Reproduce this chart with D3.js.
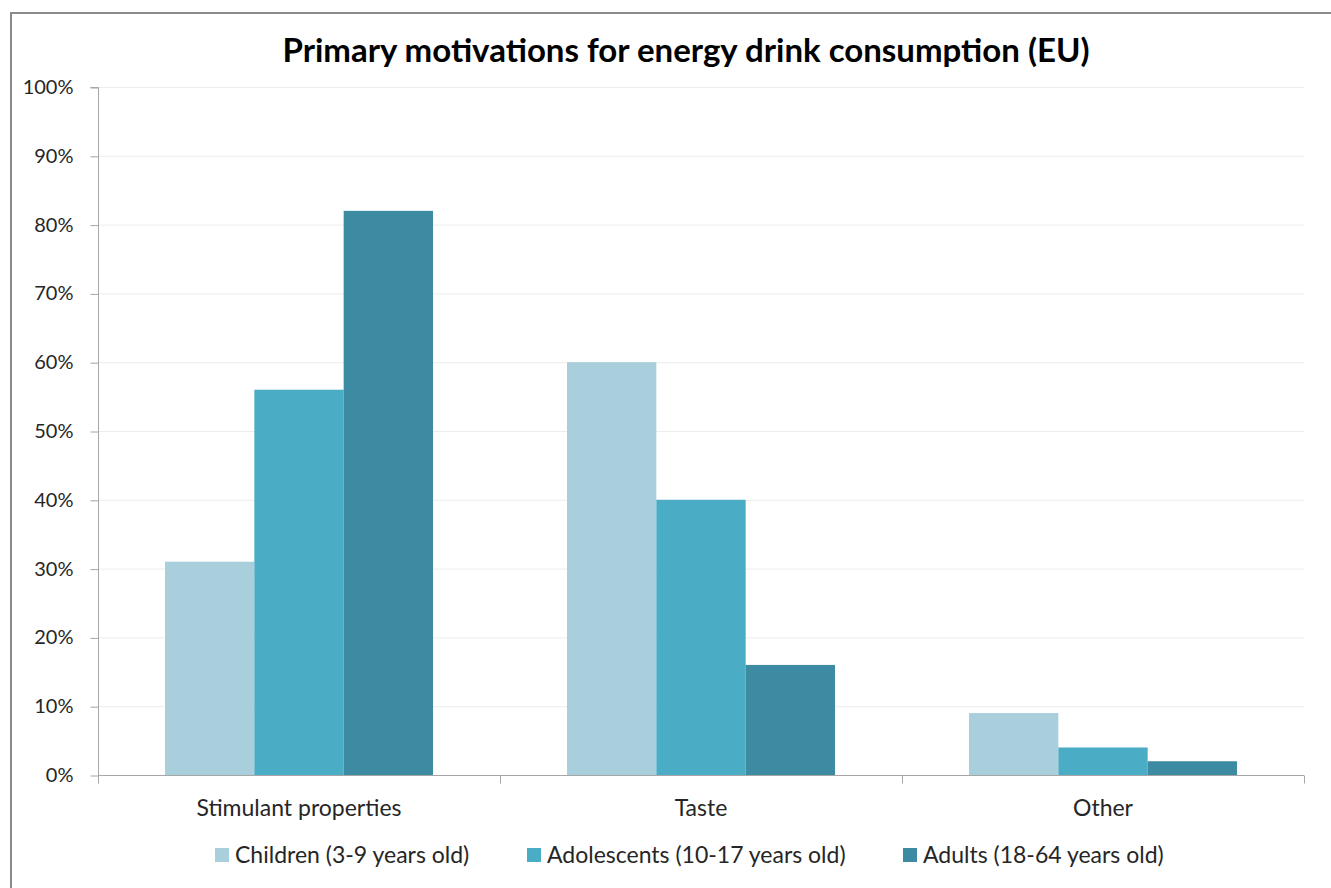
<!DOCTYPE html>
<html>
<head>
<meta charset="utf-8">
<script src="https://cdn.jsdelivr.net/npm/d3@7"></script>
<style>
  html, body { margin: 0; padding: 0; background: #ffffff; }
  svg { display: block; }
  text { font-family: "Lato", "Open Sans", sans-serif; fill: #262626; }
</style>
</head>
<body>
<svg id="chart" width="1331" height="888"></svg>
<script>
// Motivation categories and share of consumers per age group (%)
const categories = ["Stimulant properties", "Taste", "Other"];
const seriesNames = ["Children (3-9 years old)", "Adolescents (10-17 years old)", "Adults (18-64 years old)"];
const children = [31, 60, 9];
const adolescents = [56, 40, 4];
const adults = [82, 16, 2];
const yTicks = [0, 10, 20, 30, 40, 50, 60, 70, 80, 90, 100];
const colors = ["#A9CEDC", "#4BACC6", "#3C8BA3"];

const series = [children, adolescents, adults];

const svg = d3.select("#chart");
const W = 1331, H = 888;

// outer frame
svg.append("path")
  .attr("d", `M11,${H} L11,13 L${W},13`)
  .attr("fill", "none")
  .attr("stroke", "#8a8a8a")
  .attr("stroke-width", 2);

const plot = { left: 98, right: 1304, top: 87, bottom: 775 };

const x0 = d3.scaleBand().domain(categories).range([plot.left, plot.right]).paddingInner(0).paddingOuter(0);
// 150% gap width between groups
const x1 = d3.scaleBand().domain(d3.range(series.length))
  .range([0, x0.bandwidth()]).paddingOuter(0.75).paddingInner(0);
const y = d3.scaleLinear().domain([0, 100]).range([plot.bottom, plot.top]);

// title
svg.append("text")
  .attr("x", 686).attr("y", 62)
  .attr("text-anchor", "middle")
  .style("font-size", "33px").style("font-weight", "700")
  .style("fill", "#000")
  .text("Primary motivations for energy drink consumption (EU)");

// gridlines
svg.append("g").selectAll("line").data(yTicks.filter(d => d > 0)).join("line")
  .attr("x1", plot.left).attr("x2", plot.right)
  .attr("y1", d => y(d) + 0.5).attr("y2", d => y(d) + 0.5)
  .attr("stroke", "#ececec").attr("stroke-width", 1);

// y axis
const yAxis = d3.axisLeft(y).tickValues(yTicks).tickFormat(d => d + "%").tickSize(8).tickPadding(17);
const gy = svg.append("g").attr("transform", `translate(${plot.left + 0.5},0)`).call(yAxis);
gy.select(".domain").attr("stroke", "#a6a6a6").attr("d", `M-8,${plot.top + 0.5}H0V${plot.bottom + 0.5}`);
gy.selectAll(".tick line").attr("stroke", "#a6a6a6").attr("transform", "translate(0,0.5)");
gy.selectAll(".tick text")
  .style("font-size", "20px").style("font-family", "Lato, sans-serif").attr("fill", "#262626");

// bars
const groups = svg.append("g").selectAll("g").data(categories).join("g")
  .attr("transform", c => `translate(${x0(c)},0)`);
groups.selectAll("rect")
  .data((c, i) => series.map((s, k) => ({ k, v: s[i] })))
  .join("rect")
  .attr("x", d => x1(d.k))
  .attr("width", x1.bandwidth())
  .attr("y", d => y(d.v))
  .attr("height", d => y(0) - y(d.v))
  .attr("fill", d => colors[d.k]);

// x axis with ticks at category boundaries
const gx = svg.append("g").attr("transform", `translate(0,${plot.bottom + 0.5})`);
gx.append("line").attr("x1", plot.left).attr("x2", plot.right)
  .attr("stroke", "#a6a6a6");
const bounds = categories.map(c => x0(c)).concat([plot.right]);
gx.selectAll("line.tk").data(bounds).join("line").attr("class", "tk")
  .attr("x1", d => Math.round(d) + 0.5).attr("x2", d => Math.round(d) + 0.5)
  .attr("y1", 0).attr("y2", 8).attr("stroke", "#a6a6a6");
gx.selectAll("text").data(categories).join("text")
  .attr("x", c => x0(c) + x0.bandwidth() / 2)
  .attr("y", 40)
  .attr("text-anchor", "middle")
  .style("font-size", "23px")
  .text(c => c);

// legend row
const legendX = [215, 527, 903];
const lg = svg.append("g").selectAll("g").data(seriesNames).join("g")
  .attr("transform", (d, i) => `translate(${legendX[i]},848)`);
lg.append("rect").attr("width", 14).attr("height", 14).attr("fill", (d, i) => colors[i]);
lg.append("text").attr("x", 20).attr("y", 15)
  .style("font-size", "23px")
  .text(d => d);
</script>
</body>
</html>
